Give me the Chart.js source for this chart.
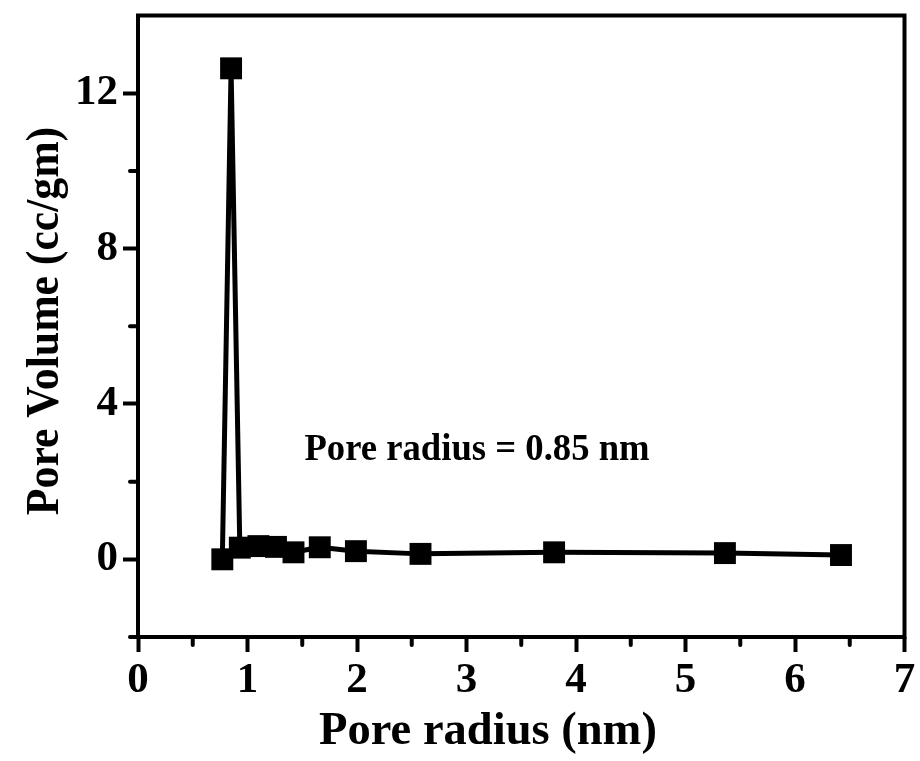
<!DOCTYPE html>
<html>
<head>
<meta charset="utf-8">
<script src="https://cdn.jsdelivr.net/npm/chart.js@4.4.1/dist/chart.umd.min.js"></script>
<style>
  html, body { margin: 0; padding: 0; background: #ffffff; }
  #wrap { width: 920px; height: 761px; }
</style>
</head>
<body>
<div id="wrap"><canvas id="c" width="920" height="761"></canvas></div>
<script>
// ---- data ----
const poreRadius = [0.77, 0.85, 0.93, 1.10, 1.26, 1.42, 1.66, 1.99, 2.58, 3.80, 5.36, 6.42];
const poreVolume = [0.00, 12.64, 0.30, 0.34, 0.32, 0.18, 0.31, 0.21, 0.14, 0.18, 0.16, 0.11];
const xMajorTicks = [0, 1, 2, 3, 4, 5, 6, 7];
const xMinorTicks = [0.5, 1.5, 2.5, 3.5, 4.5, 5.5, 6.5];
const yMajorTicks = [0, 4, 8, 12];
const yMinorTicks = [-2, 2, 6, 10];
const xTitle = 'Pore radius (nm)';
const yTitle = 'Pore Volume (cc/gm)';
const note = 'Pore radius = 0.85 nm';
const notePos = { x: 1.52, y: 2.55 };

const FONT = '"Liberation Serif", "Times New Roman", serif';

const points = poreRadius.map((x, i) => ({ x: x, y: poreVolume[i] }));

const framePlugin = {
  id: 'frame',
  afterDraw(chart) {
    const ctx = chart.ctx;
    const a = chart.chartArea;
    const xs = chart.scales.x, ys = chart.scales.y;
    ctx.save();
    ctx.strokeStyle = '#000';
    ctx.lineWidth = 4;
    ctx.lineCap = 'round';
    // minor ticks
    xMinorTicks.forEach(v => {
      const px = xs.getPixelForValue(v);
      ctx.beginPath(); ctx.moveTo(px, a.bottom); ctx.lineTo(px, a.bottom + 8); ctx.stroke();
    });
    yMinorTicks.forEach(v => {
      const py = ys.getPixelForValue(v);
      ctx.beginPath(); ctx.moveTo(a.left, py); ctx.lineTo(a.left - 8, py); ctx.stroke();
    });
    // frame
    ctx.lineCap = 'butt';
    ctx.strokeRect(a.left, a.top, a.right - a.left, a.bottom - a.top);
    // annotation
    ctx.fillStyle = '#000';
    ctx.font = 'bold 38px ' + FONT;
    ctx.textAlign = 'left';
    ctx.textBaseline = 'alphabetic';
    ctx.save();
    const nx = xs.getPixelForValue(notePos.x), ny = ys.getPixelForValue(notePos.y);
    ctx.translate(nx, ny);
    ctx.scale(0.965, 1);
    ctx.fillText(note, 0, 0);
    ctx.restore();
    // axis titles
    ctx.font = 'bold 47px ' + FONT;
    ctx.textAlign = 'center';
    ctx.save();
    ctx.translate(488, 744);
    ctx.scale(0.99, 1);
    ctx.fillText(xTitle, 0, 0);
    ctx.restore();
    ctx.save();
    ctx.font = 'bold 46px ' + FONT;
    ctx.translate(58, 321);
    ctx.rotate(-Math.PI / 2);
    ctx.scale(0.95, 1);
    ctx.fillText(yTitle, 0, 0);
    ctx.restore();
    ctx.restore();
  }
};

new Chart(document.getElementById('c'), {
  type: 'line',
  data: {
    datasets: [{
      data: points,
      borderColor: '#000',
      backgroundColor: '#000',
      borderWidth: 5,
      borderCapStyle: 'round',
      borderJoinStyle: 'round',
      tension: 0,
      pointStyle: 'rect',
      pointRadius: 15.5,
      pointHoverRadius: 15.5,
      pointBorderWidth: 0,
      pointBackgroundColor: '#000',
      clip: false
    }]
  },
  options: {
    responsive: false,
    animation: false,
    devicePixelRatio: 1,
    layout: { padding: { top: 14, right: 15, left: 0, bottom: 0 } },
    plugins: { legend: { display: false }, tooltip: { enabled: false } },
    scales: {
      x: {
        type: 'linear',
        min: 0, max: 7,
        afterFit(s) { s.height = 124; s.paddingLeft = 0; s.paddingRight = 0; },
        afterBuildTicks(s) { s.ticks = xMajorTicks.map(v => ({ value: v })); },
        border: { display: false },
        grid: { drawOnChartArea: false, tickLength: 15, tickWidth: 4, tickColor: '#000' },
        ticks: {
          color: '#000', padding: 3, maxRotation: 0, autoSkip: false,
          font: { family: FONT, size: 43, weight: 'bold' },
          callback: v => String(v)
        }
      },
      y: {
        type: 'linear',
        min: -2, max: 14,
        afterFit(s) { s.width = 138; s.paddingTop = 0; s.paddingBottom = 0; },
        afterBuildTicks(s) { s.ticks = yMajorTicks.map(v => ({ value: v })); },
        border: { display: false },
        grid: { drawOnChartArea: false, tickLength: 15, tickWidth: 4, tickColor: '#000' },
        ticks: {
          color: '#000', padding: 5, autoSkip: false,
          font: { family: FONT, size: 43, weight: 'bold' },
          callback: v => String(v)
        }
      }
    }
  },
  plugins: [framePlugin]
});
</script>
</body>
</html>
